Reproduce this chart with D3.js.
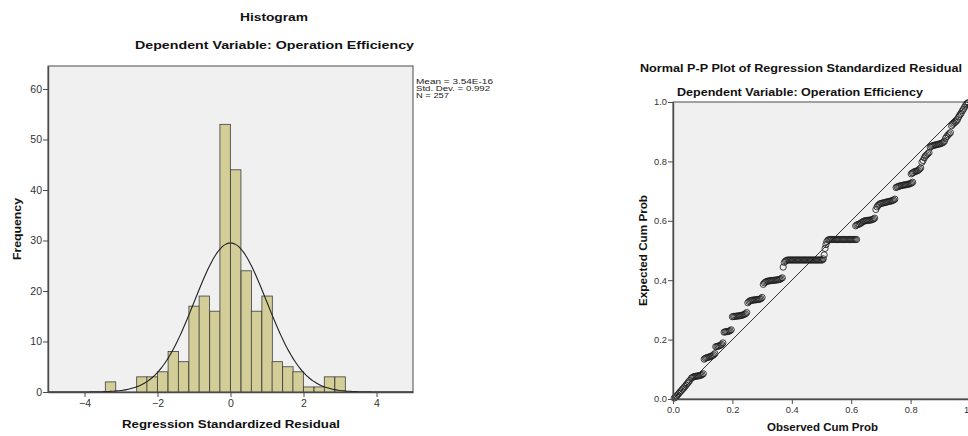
<!DOCTYPE html>
<html>
<head>
<meta charset="utf-8">
<script src="https://cdn.jsdelivr.net/npm/d3@7"></script>
<style>
  body { margin: 0; background: #fff; }
  svg { display: block; font-family: "Liberation Sans", Arial, sans-serif; }
  .tick text { fill: #333; }
</style>
</head>
<body>
<svg id="chart" width="968" height="436"></svg>
<script>
// histogram bins (lower edge, width) and counts
const binWidth = 0.2857;
const binLo = [-3.43, -2.57, -2.29, -2.00, -1.71, -1.43, -1.14, -0.86, -0.57, -0.29,
               0.00, 0.29, 0.57, 0.86, 1.14, 1.43, 1.71, 2.00, 2.29, 2.57, 2.86];
const binCount = [2, 3, 3, 4, 8, 6, 17, 19, 16, 53, 44, 24, 16, 19, 6, 5, 4, 1, 1, 3, 3];
const histXTicks = [-4, -2, 0, 2, 4];
const histYTicks = [0, 10, 20, 30, 40, 50, 60];
const stats = { mean: 3.54e-16, sd: 0.992, n: 257 };
const statLines = ["Mean = 3.54E-16", "Std. Dev. = 0.992", "N = 257"];
const statWidths = [77, 74, 33];

// P-P plot points: [observed cum prob, expected cum prob]
const ppPoints = [
  [0.004,0.003],[0.008,0.006],[0.012,0.010],[0.016,0.014],[0.020,0.019],[0.024,0.024],[0.028,0.028],
  [0.032,0.033],[0.036,0.037],[0.040,0.042],[0.044,0.047],[0.048,0.052],[0.052,0.057],[0.056,0.062],
  [0.062,0.070],[0.066,0.073],[0.070,0.075],[0.074,0.076],[0.078,0.077],[0.082,0.077],[0.086,0.078],
  [0.090,0.079],[0.094,0.080],[0.098,0.082],[0.102,0.085],
  [0.105,0.134],[0.109,0.137],[0.113,0.139],[0.117,0.140],[0.121,0.141],[0.125,0.143],[0.129,0.144],
  [0.133,0.146],[0.137,0.149],[0.141,0.153],
  [0.144,0.176],[0.148,0.177],[0.152,0.178],[0.156,0.179],[0.160,0.181],[0.164,0.184],[0.168,0.189],
  [0.172,0.225],[0.176,0.226],[0.180,0.227],[0.184,0.227],[0.188,0.228],[0.192,0.230],[0.196,0.233],
  [0.200,0.277],[0.204,0.278],[0.208,0.278],[0.212,0.279],[0.216,0.279],[0.220,0.280],[0.224,0.280],
  [0.228,0.281],[0.232,0.282],[0.236,0.283],[0.240,0.285],[0.244,0.287],[0.248,0.291],
  [0.252,0.324],[0.256,0.328],[0.260,0.331],[0.264,0.332],[0.268,0.333],[0.272,0.333],[0.276,0.334],
  [0.280,0.334],[0.284,0.335],[0.288,0.335],[0.292,0.336],[0.296,0.338],[0.300,0.342],
  [0.304,0.386],[0.308,0.391],[0.312,0.394],[0.316,0.396],[0.320,0.397],[0.324,0.398],[0.328,0.398],
  [0.332,0.399],[0.336,0.399],[0.340,0.400],[0.344,0.400],[0.348,0.401],[0.352,0.401],[0.356,0.402],
  [0.360,0.403],[0.364,0.405],[0.368,0.408],
  [0.371,0.444],[0.375,0.460],[0.379,0.465],[0.383,0.467],[0.387,0.468],[0.391,0.468],[0.395,0.468],
  [0.399,0.468],[0.403,0.468],[0.407,0.468],[0.411,0.468],[0.415,0.468],[0.419,0.468],[0.423,0.468],
  [0.427,0.468],[0.431,0.468],[0.435,0.468],[0.439,0.468],[0.443,0.468],[0.447,0.468],[0.451,0.468],
  [0.455,0.468],[0.459,0.468],[0.463,0.468],[0.467,0.468],[0.471,0.468],[0.475,0.468],[0.479,0.468],
  [0.483,0.468],[0.487,0.468],[0.491,0.468],[0.495,0.468],[0.499,0.468],[0.503,0.468],[0.506,0.472],
  [0.509,0.485],
  [0.512,0.507],[0.515,0.520],[0.518,0.530],[0.522,0.535],[0.526,0.537],[0.530,0.537],[0.534,0.537],
  [0.538,0.537],[0.542,0.537],[0.546,0.537],[0.550,0.537],[0.554,0.537],[0.558,0.537],[0.562,0.537],
  [0.566,0.537],[0.570,0.537],[0.574,0.537],[0.578,0.537],[0.582,0.537],[0.586,0.537],[0.590,0.537],
  [0.594,0.537],[0.598,0.537],[0.602,0.537],[0.606,0.537],[0.610,0.537],[0.614,0.537],[0.618,0.537],
  [0.615,0.583],[0.619,0.586],[0.623,0.588],[0.627,0.589],[0.631,0.591],[0.635,0.594],[0.639,0.597],
  [0.643,0.599],[0.647,0.600],[0.651,0.601],[0.655,0.601],[0.659,0.602],[0.663,0.602],[0.667,0.603],
  [0.671,0.604],[0.675,0.606],[0.679,0.609],
  [0.683,0.638],[0.687,0.647],[0.691,0.652],[0.695,0.656],[0.699,0.658],[0.703,0.659],[0.707,0.660],
  [0.711,0.661],[0.715,0.662],[0.719,0.663],[0.723,0.664],[0.727,0.665],[0.731,0.666],[0.735,0.667],
  [0.739,0.668],[0.743,0.670],[0.747,0.673],
  [0.751,0.712],[0.755,0.714],[0.759,0.716],[0.763,0.717],[0.767,0.718],[0.771,0.719],[0.775,0.720],
  [0.779,0.721],[0.783,0.721],[0.787,0.722],[0.791,0.723],[0.795,0.724],[0.799,0.725],[0.803,0.727],
  [0.807,0.730],
  [0.802,0.758],[0.806,0.761],[0.810,0.763],[0.814,0.766],[0.818,0.767],[0.822,0.768],[0.826,0.770],
  [0.830,0.774],[0.834,0.778],
  [0.838,0.797],[0.842,0.803],[0.846,0.812],[0.850,0.818],[0.854,0.822],[0.858,0.826],[0.862,0.830],
  [0.866,0.848],[0.870,0.851],[0.874,0.853],[0.878,0.854],[0.882,0.855],[0.886,0.856],[0.890,0.857],
  [0.894,0.858],[0.898,0.859],[0.902,0.860],[0.906,0.862],[0.910,0.864],[0.914,0.868],
  [0.918,0.878],[0.922,0.884],[0.926,0.889],[0.930,0.893],[0.934,0.897],
  [0.938,0.920],[0.942,0.925],[0.946,0.929],[0.950,0.932],[0.954,0.936],[0.958,0.941],
  [0.962,0.950],[0.966,0.957],[0.970,0.962],[0.974,0.970],[0.978,0.976],[0.982,0.983],[0.986,0.990],
  [0.990,0.995],[0.994,0.998]
];
const ppTicks = [0, 0.2, 0.4, 0.6, 0.8, 1.0];

const svg = d3.select('#chart');
const frame = '#4a4a4a';

// helper: text stretched to a measured width
function label(g, txt, x, y, size, len, opts = {}) {
  const t = g.append('text')
    .attr('x', x).attr('y', y)
    .attr('text-anchor', 'middle')
    .attr('font-size', size)
    .attr('font-weight', opts.bold === false ? 'normal' : 'bold')
    .attr('fill', '#111')
    .text(txt);
  if (len) t.attr('textLength', len).attr('lengthAdjust', 'spacingAndGlyphs');
  if (opts.rotate) t.attr('transform', `rotate(-90, ${x}, ${y})`);
  return t;
}

// ---------- Histogram ----------
const hx = d3.scaleLinear().domain([-5, 5]).range([48, 413]);
const hy = d3.scaleLinear().domain([0, 64.55]).range([392, 66]);
const hist = svg.append('g');

hist.append('rect')
  .attr('x', hx(-5)).attr('y', hy(64.55))
  .attr('width', hx(5) - hx(-5)).attr('height', hy(0) - hy(64.55))
  .attr('fill', '#f0f0f0').attr('stroke', frame).attr('stroke-width', 1);

hist.append('g').selectAll('rect')
  .data(binLo.map((lo, i) => ({ lo, n: binCount[i] })))
  .join('rect')
  .attr('x', d => hx(d.lo))
  .attr('y', d => hy(d.n))
  .attr('width', d => hx(d.lo + binWidth) - hx(d.lo))
  .attr('height', d => hy(0) - hy(d.n))
  .attr('fill', '#d3ce97')
  .attr('stroke', '#3c3c3c')
  .attr('stroke-width', 0.8);

// normal curve from the listed mean, sd and N
const scale = stats.n * binWidth / (stats.sd * Math.sqrt(2 * Math.PI));
const curveX = d3.range(-5, 5.001, 0.05);
hist.append('path')
  .datum(curveX)
  .attr('fill', 'none')
  .attr('stroke', '#222')
  .attr('stroke-width', 1.1)
  .attr('d', d3.line()
    .x(d => hx(d))
    .y(d => hy(scale * Math.exp(-0.5 * ((d - stats.mean) / stats.sd) ** 2)))
    .curve(d3.curveBasis));

const hAxisY = hist.append('g')
  .attr('transform', `translate(${hx(-5)},0)`)
  .call(d3.axisLeft(hy).tickValues(histYTicks).tickSize(5).tickPadding(1).tickSizeOuter(0));
const hAxisX = hist.append('g')
  .attr('transform', `translate(0,${hy(0)})`)
  .call(d3.axisBottom(hx).tickValues(histXTicks).tickSize(5).tickPadding(3).tickSizeOuter(0));
[hAxisY, hAxisX].forEach(a => {
  a.select('.domain').attr('stroke', frame).attr('stroke-width', 1.4);
  a.selectAll('.tick line').attr('stroke', frame);
  a.selectAll('.tick text').attr('font-size', 10.5).attr('fill', '#333');
});

label(hist, 'Histogram', 274, 21, 10.5, 68);
label(hist, 'Dependent Variable: Operation Efficiency', 274.5, 48.5, 11.5, 279);
label(hist, 'Regression Standardized Residual', 231, 428, 11.2, 218);
label(hist, 'Frequency', 21, 229, 11.2, 62, { rotate: true });

// summary text, short and wide like the original export
hist.append('g').selectAll('text')
  .data(statLines)
  .join('text')
  .attr('x', 416)
  .attr('y', (d, i) => 83.5 + i * 7.2)
  .attr('font-size', 6.4)
  .attr('fill', '#222')
  .attr('textLength', (d, i) => statWidths[i])
  .attr('lengthAdjust', 'spacingAndGlyphs')
  .text(d => d);

// ---------- Normal P-P plot ----------
const px = d3.scaleLinear().domain([0, 1]).range([673, 970]);
const py = d3.scaleLinear().domain([0, 1]).range([399, 102]);
const pp = svg.append('g');

pp.append('rect')
  .attr('x', px(0)).attr('y', py(1))
  .attr('width', px(1) - px(0)).attr('height', py(0) - py(1))
  .attr('fill', '#f0f0f0').attr('stroke', frame).attr('stroke-width', 1);

pp.append('line')
  .attr('x1', px(0)).attr('y1', py(0))
  .attr('x2', px(1)).attr('y2', py(1))
  .attr('stroke', '#333').attr('stroke-width', 1);

pp.append('g').selectAll('circle')
  .data(ppPoints)
  .join('circle')
  .attr('cx', d => px(d[0]))
  .attr('cy', d => py(d[1]))
  .attr('r', 3.1)
  .attr('fill', 'none')
  .attr('stroke', '#1e1e1e')
  .attr('stroke-opacity', 0.85)
  .attr('stroke-width', 1);

const fmt = d3.format('.1f');
const pAxisY = pp.append('g')
  .attr('transform', `translate(${px(0)},0)`)
  .call(d3.axisLeft(py).tickValues(ppTicks).tickFormat(fmt).tickSize(5).tickPadding(1).tickSizeOuter(0));
const pAxisX = pp.append('g')
  .attr('transform', `translate(0,${py(0)})`)
  .call(d3.axisBottom(px).tickValues(ppTicks).tickFormat(fmt).tickSize(5).tickPadding(2).tickSizeOuter(0));
[pAxisY, pAxisX].forEach(a => {
  a.select('.domain').attr('stroke', frame).attr('stroke-width', 1.4);
  a.selectAll('.tick line').attr('stroke', frame);
  a.selectAll('.tick text').attr('font-size', 9.3).attr('fill', '#333');
});

label(pp, 'Normal P-P Plot of Regression Standardized Residual', 801, 72, 10.5, 322);
label(pp, 'Dependent Variable: Operation Efficiency', 800, 96, 10.3, 246);
label(pp, 'Observed Cum Prob', 822.5, 431, 10.3, 111);
label(pp, 'Expected Cum Prob', 647, 250.5, 10.3, 111, { rotate: true });
</script>
</body>
</html>
